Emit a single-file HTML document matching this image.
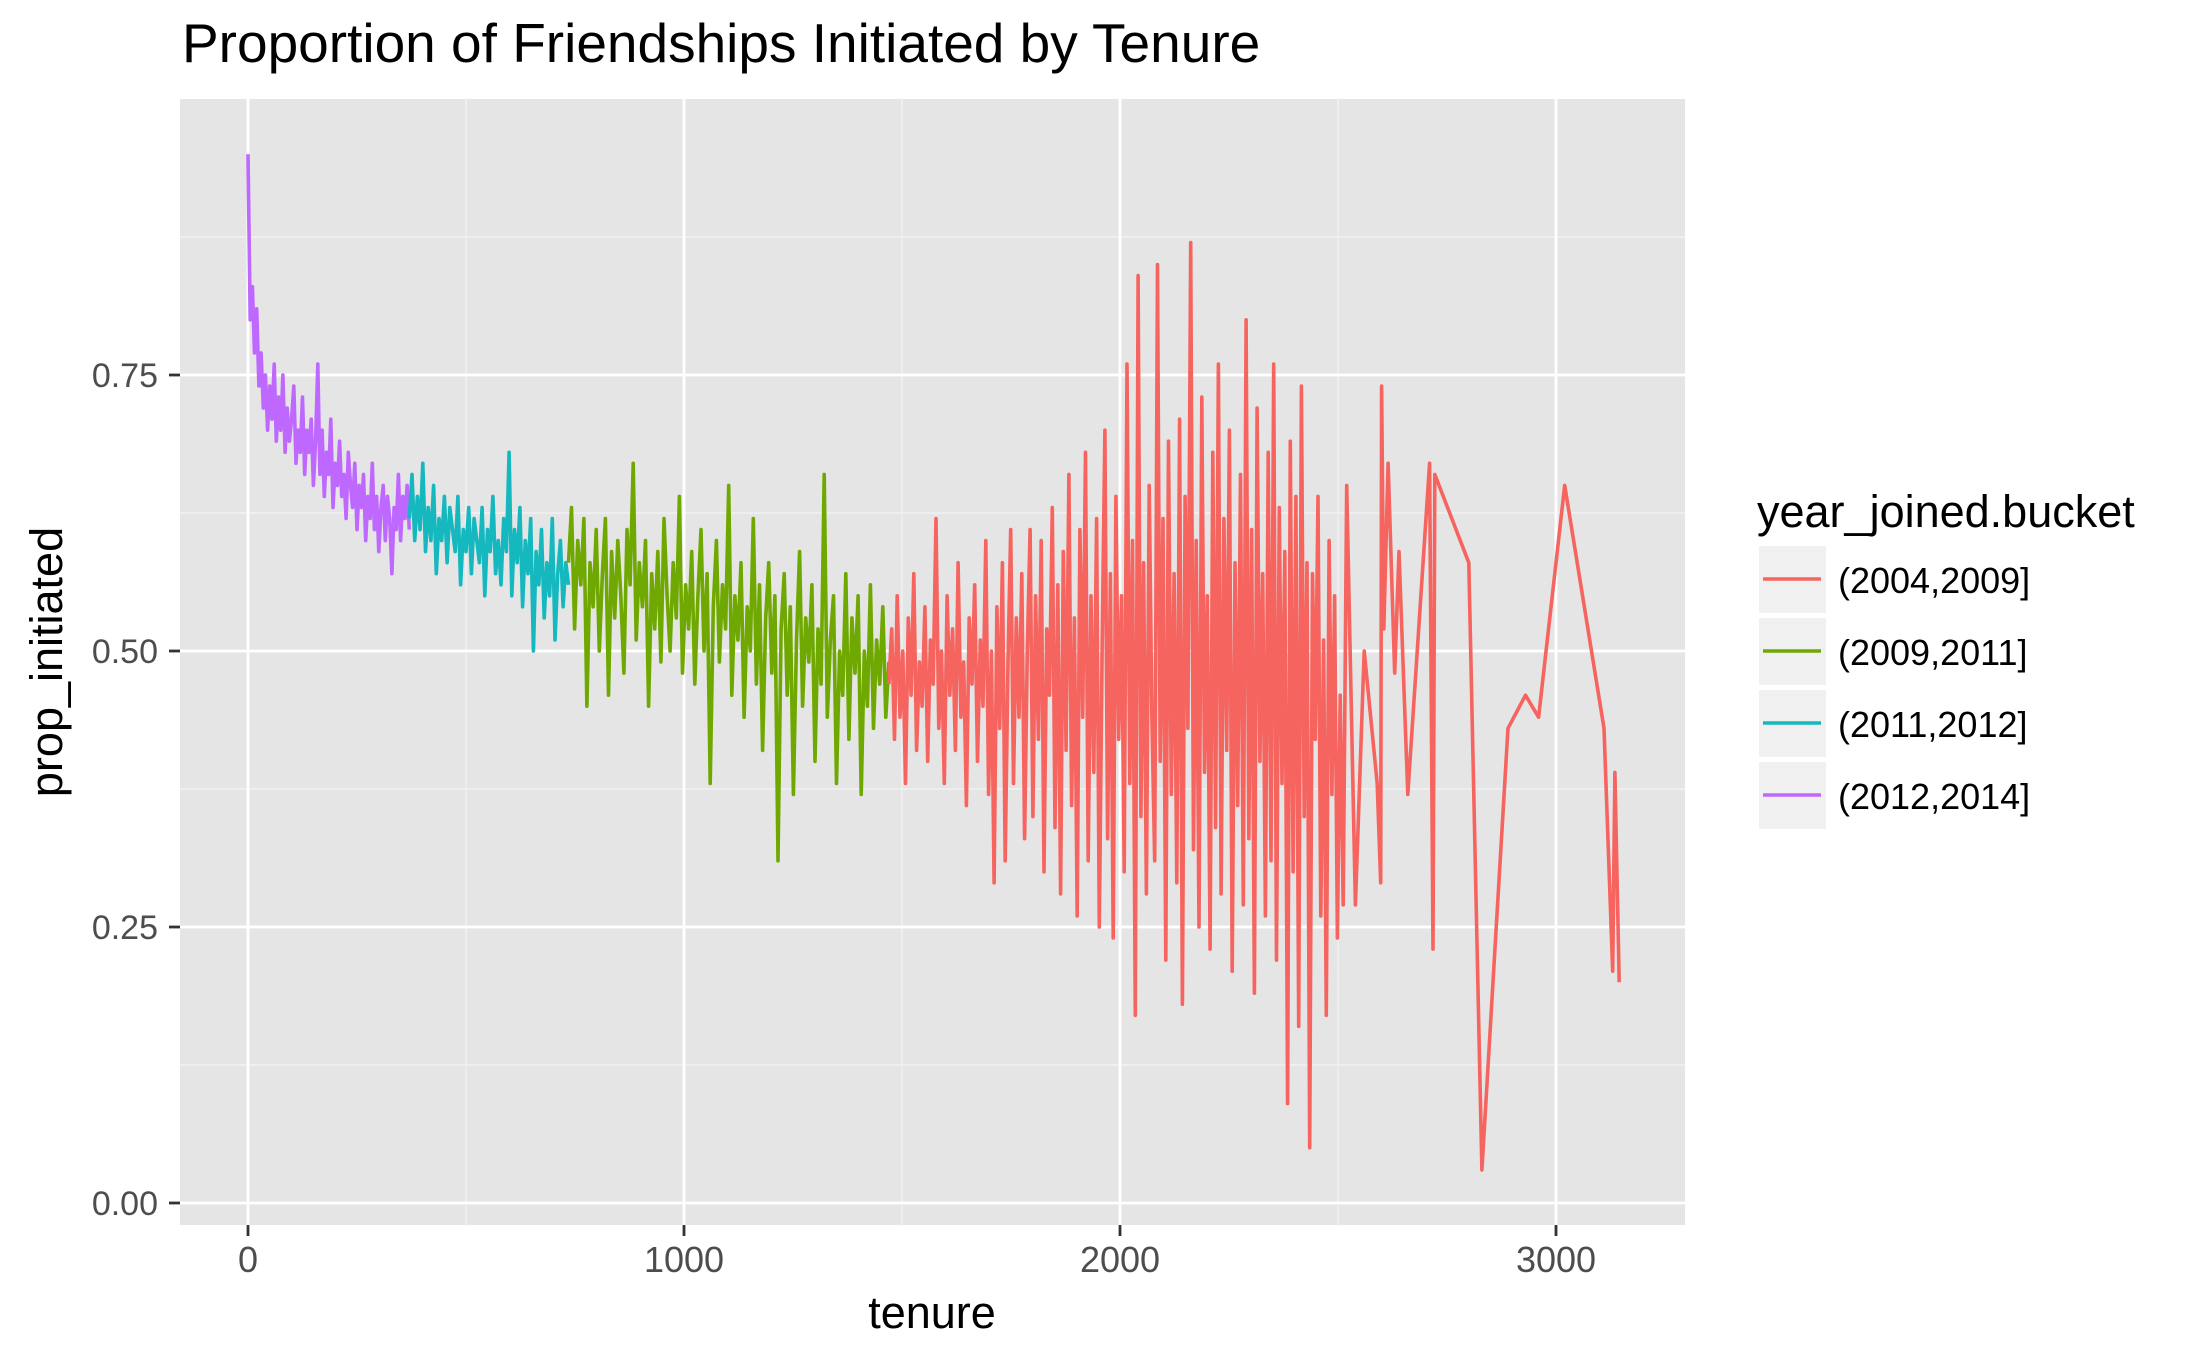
<!DOCTYPE html>
<html><head><meta charset="utf-8"><style>
body{margin:0;background:#fff;}
svg{display:block;font-family:"Liberation Sans",Arial,sans-serif;}
</style></head><body>
<svg id="chart" width="2187" height="1351" viewBox="0 0 2187 1351">
<text x="182" y="62" font-size="55" fill="#000">Proportion of Friendships Initiated by Tenure</text>
<rect x="180" y="99" width="1505" height="1126" fill="#E5E5E5"/>
<g id="grid"></g>
<g id="series"></g>
<g id="axes"></g>
<text x="932" y="1328" font-size="45" text-anchor="middle" fill="#000">tenure</text>
<text transform="translate(62,662) rotate(-90)" font-size="45" text-anchor="middle" fill="#000">prop_initiated</text>
<g id="legend">
<text x="1757" y="527" font-size="45" fill="#000">year_joined.bucket</text>
</g>
</svg>
<script>
const xTicks=[0,1000,2000,3000];
const xMinor=[500,1500,2500];
const yTicks=[0,0.25,0.5,0.75];
const yTickLabels=["0.00","0.25","0.50","0.75"];
const yMinor=[0.125,0.375,0.625,0.875];
const bucketNames=["(2004,2009]","(2009,2011]","(2011,2012]","(2012,2014]"];
const bucketColors=["#F5645F","#6FA800","#14B8BE","#BF68FF"];
const purpleRange=[0,370];
const purpleVals=[0.95,0.80,0.83,0.77,0.81,0.74,0.77,0.72,0.75,0.70,0.74,0.71,0.76,0.69,0.73,0.70,0.75,0.68,0.72,0.69,0.71,0.74,0.67,0.70,0.68,0.73,0.66,0.70,0.68,0.71,0.65,0.69,0.76,0.66,0.70,0.64,0.68,0.66,0.71,0.63,0.67,0.65,0.69,0.64,0.66,0.62,0.68,0.65,0.63,0.67,0.61,0.65,0.63,0.66,0.60,0.64,0.62,0.67,0.61,0.64,0.59,0.63,0.65,0.60,0.64,0.62,0.57,0.63,0.61,0.66,0.60,0.64,0.62,0.65,0.61];
const tealRange=[370,735];
const tealVals=[0.62,0.66,0.60,0.64,0.61,0.67,0.59,0.63,0.60,0.65,0.57,0.62,0.60,0.64,0.58,0.63,0.61,0.59,0.64,0.56,0.61,0.59,0.63,0.57,0.62,0.60,0.58,0.63,0.55,0.61,0.59,0.64,0.57,0.60,0.56,0.62,0.59,0.68,0.55,0.61,0.58,0.63,0.54,0.60,0.57,0.62,0.50,0.59,0.56,0.61,0.53,0.58,0.55,0.62,0.51,0.57,0.60,0.54,0.58,0.56];
const greenRange=[735,1470];
const greenVals=[0.58,0.63,0.52,0.60,0.56,0.62,0.45,0.58,0.54,0.61,0.50,0.57,0.62,0.46,0.59,0.53,0.60,0.55,0.48,0.61,0.56,0.67,0.51,0.58,0.54,0.60,0.45,0.57,0.52,0.59,0.49,0.62,0.55,0.50,0.58,0.53,0.64,0.48,0.56,0.52,0.59,0.47,0.55,0.61,0.50,0.57,0.38,0.54,0.60,0.49,0.56,0.52,0.65,0.46,0.55,0.51,0.58,0.44,0.54,0.50,0.62,0.47,0.56,0.41,0.53,0.58,0.48,0.55,0.31,0.52,0.57,0.46,0.54,0.37,0.51,0.59,0.45,0.53,0.49,0.56,0.40,0.52,0.47,0.66,0.44,0.51,0.55,0.38,0.50,0.46,0.57,0.42,0.53,0.48,0.55,0.37,0.50,0.45,0.56,0.43,0.51,0.47,0.54,0.44,0.49];
const redRange=[1470,2505];
const redVals=[0.47,0.52,0.42,0.55,0.44,0.50,0.38,0.53,0.46,0.57,0.41,0.49,0.45,0.54,0.40,0.51,0.47,0.62,0.43,0.50,0.38,0.55,0.46,0.52,0.41,0.58,0.44,0.49,0.36,0.53,0.47,0.56,0.40,0.51,0.45,0.60,0.37,0.50,0.29,0.54,0.43,0.58,0.31,0.49,0.61,0.38,0.53,0.44,0.57,0.33,0.50,0.61,0.35,0.55,0.42,0.60,0.30,0.52,0.46,0.63,0.34,0.56,0.28,0.59,0.41,0.66,0.36,0.53,0.26,0.61,0.44,0.68,0.31,0.55,0.39,0.62,0.25,0.50,0.70,0.33,0.57,0.24,0.64,0.42,0.55,0.30,0.76,0.38,0.60,0.17,0.84,0.35,0.58,0.28,0.65,0.44,0.31,0.85,0.40,0.62,0.22,0.69,0.37,0.57,0.29,0.71,0.18,0.64,0.43,0.87,0.32,0.60,0.25,0.73,0.39,0.55,0.23,0.68,0.34,0.76,0.28,0.62,0.41,0.70,0.21,0.58,0.36,0.66,0.27,0.80,0.33,0.61,0.19,0.72,0.40,0.57,0.26,0.68,0.31,0.76,0.22,0.63,0.38,0.59,0.09,0.69,0.30,0.64,0.16,0.74,0.35,0.58,0.05,0.57,0.42,0.64,0.26,0.51,0.17,0.60,0.37,0.55,0.24,0.46];
const tailTenure=[2512,2520,2540,2560,2590,2598,2600,2605,2615,2630,2640,2660,2710,2718,2722,2800,2830,2890,2930,2960,3020,3110,3130,3135,3145];
const tailVals=[0.27,0.65,0.27,0.50,0.38,0.29,0.74,0.52,0.67,0.48,0.59,0.37,0.67,0.23,0.66,0.58,0.03,0.43,0.46,0.44,0.65,0.43,0.21,0.39,0.20];

const NS="http://www.w3.org/2000/svg";
const PL=180,PR=1685,PT=99,PB=1225;
const xs=v=>248+v*0.436;
const ys=v=>1203-v*1104;
function mk(tag,attrs,parent){const e=document.createElementNS(NS,tag);for(const k in attrs)e.setAttribute(k,attrs[k]);parent.appendChild(e);return e;}
const grid=document.getElementById('grid');
xMinor.forEach(v=>{const l=mk('line',{x1:xs(v),x2:xs(v),y1:PT,y2:PB,stroke:'#F2F2F2','stroke-width':1.4},grid);

});
yMinor.forEach(v=>{const l=mk('line',{x1:PL,x2:PR,y1:ys(v),y2:ys(v),stroke:'#F2F2F2','stroke-width':1.4},grid);

});
xTicks.forEach(v=>{const l=mk('line',{x1:xs(v),x2:xs(v),y1:PT,y2:PB,stroke:'#fff','stroke-width':2.8},grid);

});
yTicks.forEach(v=>{const l=mk('line',{x1:PL,x2:PR,y1:ys(v),y2:ys(v),stroke:'#fff','stroke-width':2.8},grid);

});
const axes=document.getElementById('axes');
xTicks.forEach(v=>{const t=mk('line',{x1:xs(v),x2:xs(v),y1:PB,y2:PB+11,stroke:'#333','stroke-width':2.8},axes);


const tx=mk('text',{x:xs(v),y:1272,'font-size':36,'text-anchor':'middle',fill:'#4D4D4D'},axes);tx.textContent=String(v);

});
yTicks.forEach((v,i)=>{const t=mk('line',{x1:PL-11,x2:PL,y1:ys(v),y2:ys(v),stroke:'#333','stroke-width':2.8},axes);


const tx=mk('text',{x:158,y:ys(v)+12,'font-size':34,'text-anchor':'end',fill:'#4D4D4D'},axes);tx.textContent=yTickLabels[i];

});
const series=document.getElementById('series');
function ranged(range,vals){const n=vals.length;return vals.map((v,i)=>[range[0]+(range[1]-range[0])*i/(n-1),v]);}
const segs=[
 {pts:ranged(purpleRange,purpleVals),c:3,name:'series-2012-2014'},
 {pts:ranged(tealRange,tealVals),c:2,name:'series-2011-2012'},
 {pts:ranged(greenRange,greenVals),c:1,name:'series-2009-2011'},
 {pts:ranged(redRange,redVals).concat(tailTenure.map((t,i)=>[t,tailVals[i]])),c:0,name:'series-2004-2009'}
];
segs.forEach(s=>{const p=mk('polyline',{points:s.pts.map(q=>xs(q[0]).toFixed(1)+','+ys(q[1]).toFixed(1)).join(' '),fill:'none',stroke:bucketColors[s.c],'stroke-width':3.6,'stroke-linejoin':'round'},series);

});
const leg=document.getElementById('legend');
bucketNames.forEach((n,i)=>{const y=546+i*72;
const r=mk('rect',{x:1759,y:y,width:67,height:67,fill:'#F0F0F0'},leg);


const l=mk('line',{x1:1763,x2:1821,y1:y+33,y2:y+33,stroke:bucketColors[i],'stroke-width':3.5},leg);


const t=mk('text',{x:1838,y:y+47,'font-size':36,fill:'#000'},leg);t.textContent=n;

});
</script>
</body></html>
